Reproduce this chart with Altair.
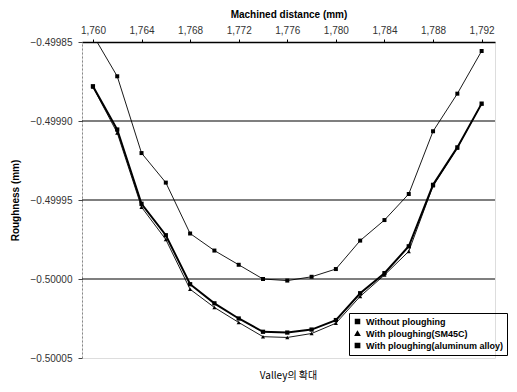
import altair as alt
import pandas as pd

distance = [1.760, 1.762, 1.764, 1.766, 1.768, 1.770, 1.772, 1.774, 1.776,
            1.778, 1.780, 1.782, 1.784, 1.786, 1.788, 1.790, 1.792]

without_ploughing = [-0.4998455, -0.4998717, -0.4999203, -0.4999390, -0.4999712,
                     -0.4999820, -0.4999910, -0.5000000, -0.5000010, -0.4999986,
                     -0.4999937, -0.4999757, -0.4999627, -0.4999462, -0.4999065,
                     -0.4998827, -0.4998557]
with_sm45c = [-0.4998785, -0.4999075, -0.4999545, -0.4999750, -0.5000065,
              -0.5000180, -0.5000275, -0.5000365, -0.5000370, -0.5000345,
              -0.5000280, -0.5000110, -0.4999975, -0.4999825, -0.4999410,
              -0.4999170, -0.4998890]
with_aluminum = [-0.4998780, -0.4999054, -0.4999524, -0.4999723, -0.5000033,
                 -0.5000154, -0.5000250, -0.5000334, -0.5000339, -0.5000320,
                 -0.5000260, -0.5000090, -0.4999963, -0.4999793, -0.4999404,
                 -0.4999167, -0.4998890]

series_names = ["Without ploughing", "With ploughing(SM45C)",
                "With ploughing(aluminum alloy)"]
grid_values = [-0.49990, -0.49995, -0.50000]
x_ticks = [1.760, 1.764, 1.768, 1.772, 1.776, 1.780, 1.784, 1.788, 1.792]
y_ticks = [-0.49985, -0.49990, -0.49995, -0.50000, -0.50005]

rows = []
for name, vals in zip(series_names, [without_ploughing, with_sm45c, with_aluminum]):
    for d, v in zip(distance, vals):
        rows.append({"distance": d, "roughness": v, "series": name})
df = pd.DataFrame(rows)
grid_df = pd.DataFrame({"g": grid_values})

FONT = "Liberation Sans"

xscale = alt.Scale(domain=[1.7591, 1.7931], nice=False, zero=False)
yscale = alt.Scale(domain=[-0.50005, -0.49985], nice=False, zero=False)

x_axis = alt.Axis(orient="top", values=x_ticks, title="Machined distance (mm)",
                  labelExpr="replace(format(datum.value, '.3f'), '.', ',')",
                  grid=False, domainColor="black", domainWidth=1.5,
                  tickColor="black", tickSize=3, labelFontSize=10,
                  labelColor="#333", titleFontSize=10, titleFontWeight="bold",
                  titlePadding=6, labelPadding=4, labelFont=FONT, titleFont=FONT)
y_axis = alt.Axis(values=y_ticks, format=".5f", title="Roughness (mm)",
                  grid=False, domainColor="#888", domainDash=[2, 2],
                  tickColor="#444", tickSize=4, labelFontSize=10,
                  labelColor="#333", titleFontSize=10, titleFontWeight="bold",
                  titlePadding=10, labelPadding=6, labelFont=FONT, titleFont=FONT)

legend = alt.Legend(title=None, orient="none", legendX=267, legendY=271,
                    strokeColor="black", padding=4, labelFont=FONT,
                    labelFontSize=9, labelFontWeight="bold",
                    labelColor="black", rowPadding=1,
                    symbolFillColor="black", symbolStrokeColor="black")

x_enc = alt.X("distance:Q", scale=xscale, axis=x_axis)
y_enc = alt.Y("roughness:Q", scale=yscale, axis=y_axis)

grid = alt.Chart(grid_df).mark_rule(color="black", strokeWidth=1.2).encode(
    y=alt.Y("g:Q", scale=yscale, axis=y_axis)
)

thin_lines = alt.Chart(df).transform_filter(
    alt.datum.series != series_names[2]
).mark_line(color="black", strokeWidth=0.9, clip=True).encode(
    x=x_enc, y=y_enc, detail="series:N"
)

thick_line = alt.Chart(df).transform_filter(
    alt.datum.series == series_names[2]
).mark_line(color="black", strokeWidth=2.0, clip=True).encode(
    x=x_enc, y=y_enc
)

points = alt.Chart(df).mark_point(filled=True, opacity=1, clip=True).encode(
    x=x_enc, y=y_enc,
    shape=alt.Shape("series:N",
                    scale=alt.Scale(domain=series_names,
                                    range=["square", "triangle-up", "square"]),
                    legend=legend),
    size=alt.Size("series:N",
                  scale=alt.Scale(domain=series_names, range=[16, 18, 50]),
                  legend=legend),
    color=alt.Color("series:N",
                    scale=alt.Scale(domain=series_names, range=["black", "black", "black"]),
                    legend=legend),
)

chart = alt.layer(grid, thin_lines, thick_line, points).properties(
    width=413, height=316,
    autosize=alt.AutoSizeParams(type="none"),
    padding={"left": 74, "top": 34, "right": 14, "bottom": 26},
    title=alt.TitleParams("Valley의 확대", orient="bottom", fontSize=10,
                          font="Noto Sans CJK KR", fontWeight="normal", offset=8,
                          anchor="middle"),
).configure_view(stroke=None).configure(background="white")

chart.save("out.html", embed_options={"renderer": "svg", "actions": False})
